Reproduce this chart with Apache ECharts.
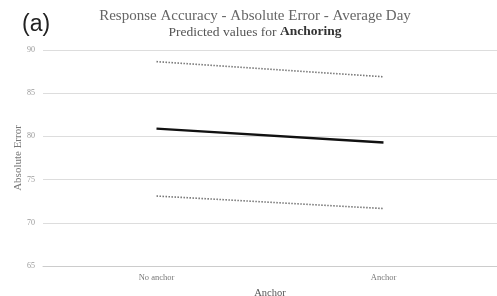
<!DOCTYPE html>
<html>
<head>
<meta charset="utf-8">
<script src="https://cdn.jsdelivr.net/npm/echarts@6/dist/echarts.min.js"></script>
<style>
    html, body {margin: 0; padding: 0; background: #fff;}
    #chart {width: 497px; height: 296px;}
</style>
</head>
<body>
<div id="chart"></div>
<script>
const categories = ['No anchor', 'Anchor'];
const predicted = [80.9, 79.3];
const upperBound = [88.65, 86.9];
const lowerBound = [73.1, 71.65];
const yTicks = {min: 65, max: 90, interval: 5};

const serif = 'Liberation Serif';

const chart = echarts.init(document.getElementById('chart'));

chart.setOption({
    animation: false,
    backgroundColor: '#fff',
    title: [
        {
            text: '(a)',
            left: 17,
            top: 8,
            textStyle: {fontFamily: 'Liberation Sans', fontSize: 23, fontWeight: 'normal', color: '#222'}
        },
        {
            text: 'Response Accuracy - Absolute Error - Average Day',
            subtext: 'Predicted values for {b|Anchoring}',
            left: 250,
            textAlign: 'center',
            top: 4,
            itemGap: 1,
            textStyle: {fontFamily: serif, fontSize: 15, fontWeight: 'normal', color: '#666'},
            subtextStyle: {
                fontFamily: serif, fontSize: 13.5, color: '#555',
                rich: {b: {fontFamily: serif, fontSize: 13.5, fontWeight: 'bold', color: '#333'}}
            }
        }
    ],
    grid: {left: 43, right: 0, top: 50, bottom: 30, outerBoundsMode: 'none'},
    xAxis: {
        type: 'category',
        data: categories,
        name: 'Anchor',
        nameLocation: 'middle',
        nameGap: 21,
        nameTextStyle: {fontFamily: serif, fontSize: 10.5, color: '#555'},
        axisLine: {lineStyle: {color: '#ccc'}},
        axisTick: {show: false},
        axisLabel: {fontFamily: serif, fontSize: 8.5, color: '#777', margin: 7.5}
    },
    yAxis: {
        type: 'value',
        min: yTicks.min,
        max: yTicks.max,
        interval: yTicks.interval,
        name: 'Absolute Error',
        nameLocation: 'middle',
        nameGap: 19,
        nameMoveOverlap: false,
        nameTextStyle: {fontFamily: serif, fontSize: 11, color: '#777'},
        axisLine: {show: false},
        axisTick: {show: false},
        axisLabel: {fontFamily: serif, fontSize: 8, color: '#999', margin: 8},
        splitLine: {lineStyle: {color: '#ddd', width: 1}}
    },
    series: [
        {
            name: 'Upper',
            type: 'line',
            data: upperBound,
            symbol: 'none',
            lineStyle: {color: '#777', width: 1.6, type: [1.5, 1.5]}
        },
        {
            name: 'Predicted',
            type: 'line',
            data: predicted,
            symbol: 'none',
            lineStyle: {color: '#111', width: 2.4}
        },
        {
            name: 'Lower',
            type: 'line',
            data: lowerBound,
            symbol: 'none',
            lineStyle: {color: '#777', width: 1.6, type: [1.5, 1.5]}
        }
    ]
});
</script>
</body>
</html>
